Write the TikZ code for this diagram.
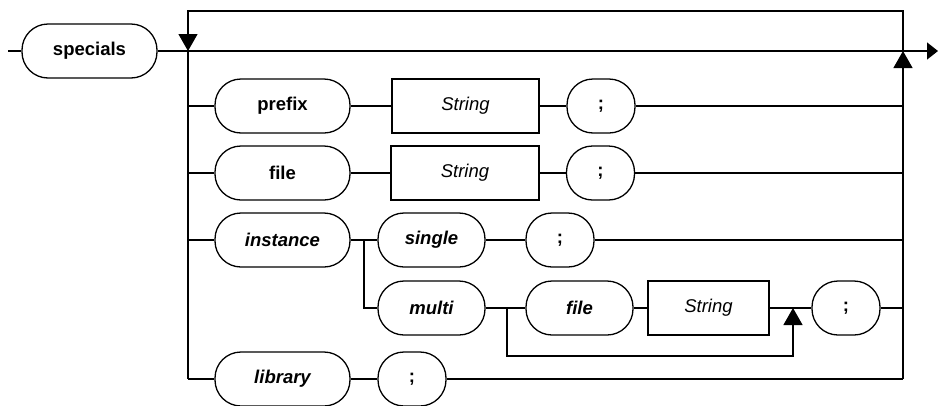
\documentclass[tikz,border=0pt]{standalone}
\usepackage{fontspec}
\setmainfont{Liberation Sans}
\usetikzlibrary{arrows.meta}
\tikzset{
  rail/.style={line width=1.3pt, draw=black},
  term/.style={draw, line width=1.3pt, rectangle, rounded corners=26pt, minimum height=54pt, inner sep=0pt, font=\fontsize{18.5}{20}\selectfont\bfseries},
  nterm/.style={draw, line width=1.3pt, rectangle, minimum height=54pt, inner sep=0pt, font=\fontsize{18.5}{20}\selectfont\itshape},
  kw/.style={term, font=\fontsize{18.5}{20}\selectfont\bfseries\itshape},
  vtip/.style={-{Triangle[width=19pt,length=17pt]}},
  htip/.style={-{Triangle[width=17pt,length=11pt]}}
}
\begin{document}
\begin{tikzpicture}[x=1pt,y=-1pt]
\useasboundingbox (0,0) rectangle (938,405);
% nodes
\node[term, minimum width=135pt] (specials) at (89.5,51) {specials};
\node[term, minimum width=135pt] (prefix) at (282.5,106) {prefix};
\node[nterm, minimum width=147pt] (str1) at (465.5,106) {String};
\node[term, minimum width=68pt] (semi1) at (601,106) {;};
\node[term, minimum width=135pt] (file) at (282.5,173) {file};
\node[nterm, minimum width=148pt] (str2) at (465,173) {String};
\node[term, minimum width=68pt] (semi2) at (600.5,173) {;};
\node[kw, minimum width=135pt] (instance) at (282.5,240) {instance};
\node[kw, minimum width=107pt] (single) at (431.5,240) {single};
\node[term, minimum width=68pt] (semi3) at (560,240) {;};
\node[kw, minimum width=107pt] (multi) at (431.5,308) {multi};
\node[kw, minimum width=107pt] (file2) at (579.5,308) {file};
\node[nterm, minimum width=121pt] (str3) at (708.5,308) {String};
\node[term, minimum width=68pt] (semi4) at (846,308) {;};
\node[kw, minimum width=135pt] (library) at (282.5,379) {library};
\node[term, minimum width=68pt] (semi5) at (412,379) {;};
% coordinates
\coordinate (start) at (8,51);
\coordinate (end) at (938,51);
\coordinate (jL) at (188,51);
\coordinate (jR) at (903,51);
\coordinate (topL) at (188,11);
\coordinate (topR) at (903,11);
\coordinate (bL) at (188,379);
\coordinate (bR) at (903,379);
\coordinate (ji) at (364,240);
\coordinate (jm) at (507,308);
\coordinate (jup) at (793,308);
\coordinate (lb) at (793,356);
% main line
\draw[rail] (start) -- (specials.west);
\draw[rail, htip] (specials.east) -- (end);
% repetition loop
\draw[rail, vtip] (jR) -- (topR) -- (topL) -- (jL);
% left and right verticals
\draw[rail] (jL) -- (bL);
\draw[rail, vtip] (bR) -- (jR);
% prefix row
\draw[rail] (prefix.west -| jL) -- (prefix.west);
\draw[rail] (prefix) -- (str1);
\draw[rail] (str1) -- (semi1);
\draw[rail] (semi1.east) -- (semi1.east -| jR);
% file row
\draw[rail] (file.west -| jL) -- (file.west);
\draw[rail] (file) -- (str2);
\draw[rail] (str2) -- (semi2);
\draw[rail] (semi2.east) -- (semi2.east -| jR);
% instance row
\draw[rail] (instance.west -| jL) -- (instance.west);
\draw[rail] (instance.east) -- (single.west);
\draw[rail] (ji) |- (multi.west);
\draw[rail] (single) -- (semi3);
\draw[rail] (semi3.east) -- (semi3.east -| jR);
% multi row
\draw[rail] (multi.east) -- (file2.west);
\draw[rail] (file2) -- (str3);
\draw[rail] (str3) -- (semi4);
\draw[rail, vtip] (jm) |- (lb) -- (jup);
\draw[rail] (semi4.east) -- (semi4.east -| jR);
% library row
\draw[rail] (bL) -- (library.west);
\draw[rail] (library) -- (semi5);
\draw[rail] (semi5.east) -- (bR);
\end{tikzpicture}
\end{document}
